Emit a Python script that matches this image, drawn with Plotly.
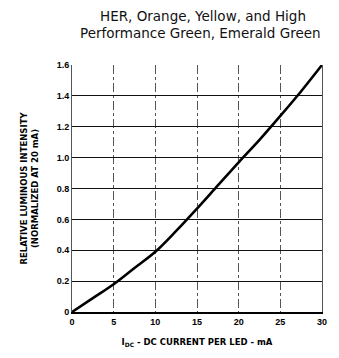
import plotly.graph_objects as go

current_ma = [0, 2.5, 5, 7.5, 10, 12.5, 15, 17.5, 20, 22.5, 25, 27.5, 30]
rel_intensity = [0, 0.09, 0.18, 0.285, 0.39, 0.525, 0.67, 0.82, 0.97, 1.115, 1.27, 1.43, 1.6]
x_ticks = [0, 5, 10, 15, 20, 25, 30]
x_labels = ["0", "5", "10", "15", "20", "25", "30"]
y_ticks = [0, 0.2, 0.4, 0.6, 0.8, 1.0, 1.2, 1.4, 1.6]
y_labels = ["0", "0.2", "0.4", "0.6", "0.8", "1.0", "1.2", "1.4", "1.6"]
title_lines = ["HER, Orange, Yellow, and High", "Performance Green, Emerald Green"]

fig = go.Figure()
fig.add_trace(go.Scatter(x=current_ma, y=rel_intensity, mode="lines",
                         line=dict(color="black", width=2.6, shape="spline", smoothing=1.0),
                         showlegend=False, hoverinfo="skip"))

tickfont = dict(family="Liberation Sans", size=9, color="black", weight="bold")
labfont = dict(family="DejaVu Sans", size=8.5, color="black", weight="bold")
titlefont = dict(family="DejaVu Sans", size=13.5, color="#111")

fig.add_annotation(text=title_lines[0], xref="paper", yref="paper",
                   x=0.524, y=1.2, xanchor="center", yanchor="middle",
                   showarrow=False, font=titlefont)
fig.add_annotation(text=title_lines[1], xref="paper", yref="paper",
                   x=0.512, y=1.13, xanchor="center", yanchor="middle",
                   showarrow=False, font=titlefont)

fig.update_layout(
    width=339, height=358,
    margin=dict(l=72, r=17, t=65, b=43),
    paper_bgcolor="white", plot_bgcolor="white",
    xaxis=dict(range=[0, 30], tickvals=x_ticks, ticktext=x_labels,
               tickfont=tickfont, showgrid=True, gridcolor="#555",
               griddash="dashdot", gridwidth=1, zeroline=False,
               showline=True, linecolor="black", linewidth=1.5,
               mirror=False, ticks="", ticklen=0,
               title=dict(text="I<sub>DC</sub> - DC CURRENT PER LED - mA",
                          font=labfont, standoff=14)),
    yaxis=dict(range=[0, 1.6], tickvals=y_ticks, ticktext=y_labels,
               tickfont=tickfont, showgrid=True, gridcolor="#111",
               gridwidth=1.4, zeroline=False, showline=True,
               linecolor="#555", linewidth=1, mirror=True,
               ticks="", ticklen=0,
               title=dict(text="RELATIVE LUMINOUS INTENSITY<br>(NORMALIZED AT 20 mA)",
                          font=labfont, standoff=16)),
)

fig.write_html("out.html")
